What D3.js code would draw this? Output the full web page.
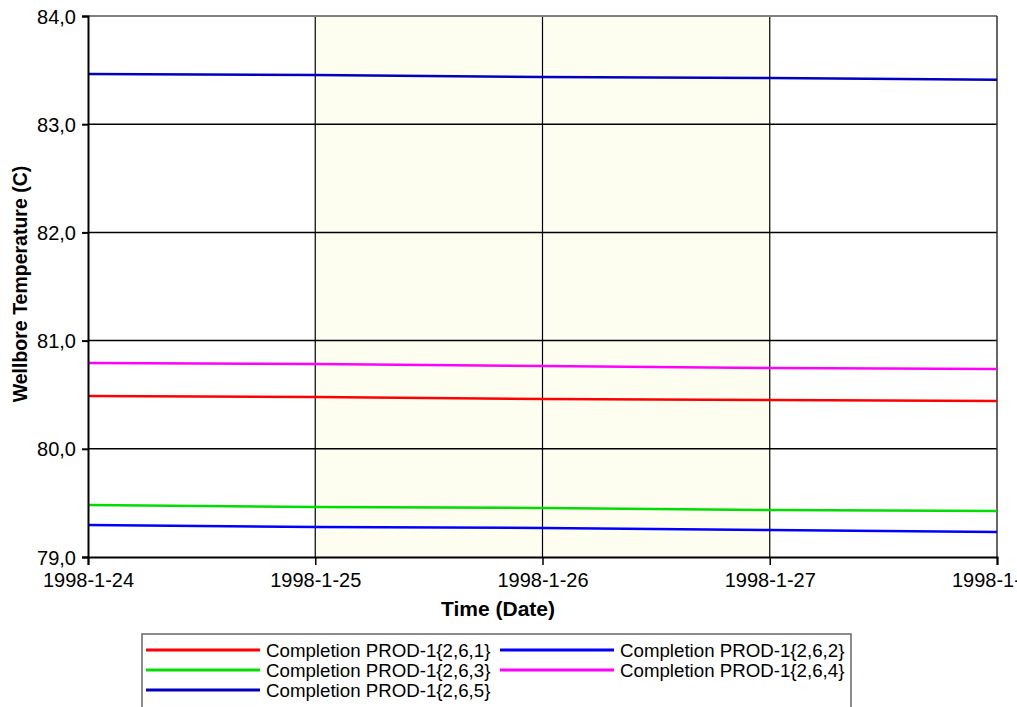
<!DOCTYPE html>
<html lang="en">
<head>
    <meta charset="UTF-8">
    <title>Wellbore Temperature</title>
    <script src="https://d3js.org/d3.v7.min.js"></script>
    <style>
        body { margin: 0; background: #fff; }
        text { font-family: Arial, "Liberation Sans", sans-serif; fill: #000; }
    </style>
</head>
<body>
<svg id="chart"></svg>
<script>
// Daten
var dates = ["1998-1-24", "1998-1-25", "1998-1-26", "1998-1-27", "1998-1-28"];
var seriesNames = ["Completion PROD-1{2,6,1}", "Completion PROD-1{2,6,2}", "Completion PROD-1{2,6,3}",
                   "Completion PROD-1{2,6,4}", "Completion PROD-1{2,6,5}"];
var s261 = [80.488, 80.479, 80.460, 80.451, 80.442];
var s262 = [79.296, 79.277, 79.268, 79.250, 79.231];
var s263 = [79.481, 79.462, 79.453, 79.434, 79.425];
var s264 = [80.793, 80.784, 80.765, 80.747, 80.737];
var s265 = [83.464, 83.455, 83.436, 83.427, 83.410];
var yTicks = [79, 80, 81, 82, 83, 84];
var shadeRange = ["1998-1-25", "1998-1-27"];

var colors = ["#ff0000", "#0000ff", "#00dd00", "#ff00ff", "#0000c0"];
var allSeries = [s261, s262, s263, s264, s265];

var width = 1017, height = 707;
var margin = {left: 88, right: 20, top: 16, bottom: 150};

var svg = d3.select("#chart").attr("width", width).attr("height", height);

var parse = d3.timeParse("%Y-%-m-%-d");
var x = d3.scaleTime()
    .domain([parse(dates[0]), parse(dates[dates.length - 1])])
    .range([margin.left, width - margin.right]);
var y = d3.scaleLinear()
    .domain([79, 84])
    .range([height - margin.bottom, margin.top]);

// Hintergrund-Band
svg.append("rect")
    .attr("x", x(parse(shadeRange[0])))
    .attr("y", y(84))
    .attr("width", x(parse(shadeRange[1])) - x(parse(shadeRange[0])))
    .attr("height", y(79) - y(84))
    .attr("fill", "#fdfdf0");

// Gitterlinien
svg.selectAll(".hgrid").data(yTicks.slice(1, -1)).enter().append("line")
    .attr("x1", x.range()[0]).attr("x2", x.range()[1])
    .attr("y1", function(d) { return y(d); }).attr("y2", function(d) { return y(d); })
    .attr("stroke", "#000").attr("stroke-width", 1.5);
svg.selectAll(".vgrid").data(dates.slice(1, -1)).enter().append("line")
    .attr("x1", function(d) { return x(parse(d)); }).attr("x2", function(d) { return x(parse(d)); })
    .attr("y1", y(79)).attr("y2", y(84))
    .attr("stroke", "#000").attr("stroke-width", 1.2);

// Rahmen oben und rechts
svg.append("line").attr("x1", x.range()[0]).attr("x2", x.range()[1])
    .attr("y1", y(84)).attr("y2", y(84)).attr("stroke", "#808080").attr("stroke-width", 2);
svg.append("line").attr("x1", x.range()[1]).attr("x2", x.range()[1])
    .attr("y1", y(84)).attr("y2", y(79)).attr("stroke", "#333").attr("stroke-width", 1.5);

// Linien
var line = d3.line()
    .x(function(d, i) { return x(parse(dates[i])); })
    .y(function(d) { return y(d); });
var order = [4, 3, 0, 2, 1];
order.forEach(function(k) {
    svg.append("path")
        .datum(allSeries[k])
        .attr("d", line)
        .attr("fill", "none")
        .attr("stroke", colors[k])
        .attr("stroke-width", 2.5);
});

// Achsen
var yAxis = svg.append("g")
    .attr("transform", "translate(" + margin.left + ",0)")
    .call(d3.axisLeft(y).tickValues(yTicks).tickSize(6).tickPadding(6)
        .tickFormat(function(d) { return d3.format(".1f")(d).replace(".", ","); }));
yAxis.select(".domain").attr("stroke", "#000").attr("stroke-width", 2);
yAxis.selectAll(".tick line").attr("stroke", "#000").attr("stroke-width", 2);
yAxis.selectAll("text").style("font-size", "20px").attr("dy", "0.35em");

var xAxis = svg.append("g")
    .attr("transform", "translate(0," + y(79) + ")")
    .call(d3.axisBottom(x).tickValues(dates.map(parse)).tickSize(8).tickPadding(8)
        .tickFormat(d3.timeFormat("%Y-%-m-%-d")));
xAxis.select(".domain").attr("stroke", "#000").attr("stroke-width", 2);
xAxis.selectAll(".tick line").attr("stroke", "#000").attr("stroke-width", 1.5);
xAxis.selectAll("text").style("font-size", "20px");

// Achsentitel
svg.append("text")
    .attr("transform", "translate(27,284) rotate(-90)")
    .attr("text-anchor", "middle")
    .style("font-size", "19.5px").style("font-weight", "bold")
    .text("Wellbore Temperature (C)");
svg.append("text")
    .attr("x", 498)
    .attr("y", 616)
    .attr("text-anchor", "middle")
    .style("font-size", "21px").style("font-weight", "bold")
    .text("Time (Date)");

// Legende
var legend = svg.append("g");
legend.append("rect")
    .attr("x", 142).attr("y", 634).attr("width", 709).attr("height", 90)
    .attr("fill", "#fff").attr("stroke", "#666").attr("stroke-width", 1.5);
var legendItems = legend.selectAll(".item").data(seriesNames).enter().append("g")
    .attr("transform", function(d, i) {
        return "translate(" + (146 + (i % 2) * 354) + "," + (650 + Math.floor(i / 2) * 20) + ")";
    });
legendItems.append("line")
    .attr("x1", 0).attr("x2", 114).attr("y1", 0).attr("y2", 0)
    .attr("stroke", function(d, i) { return colors[i]; })
    .attr("stroke-width", 3);
legendItems.append("text")
    .attr("x", 120).attr("dy", "0.35em")
    .style("font-size", "18.7px")
    .text(function(d) { return d; });
</script>
</body>
</html>
